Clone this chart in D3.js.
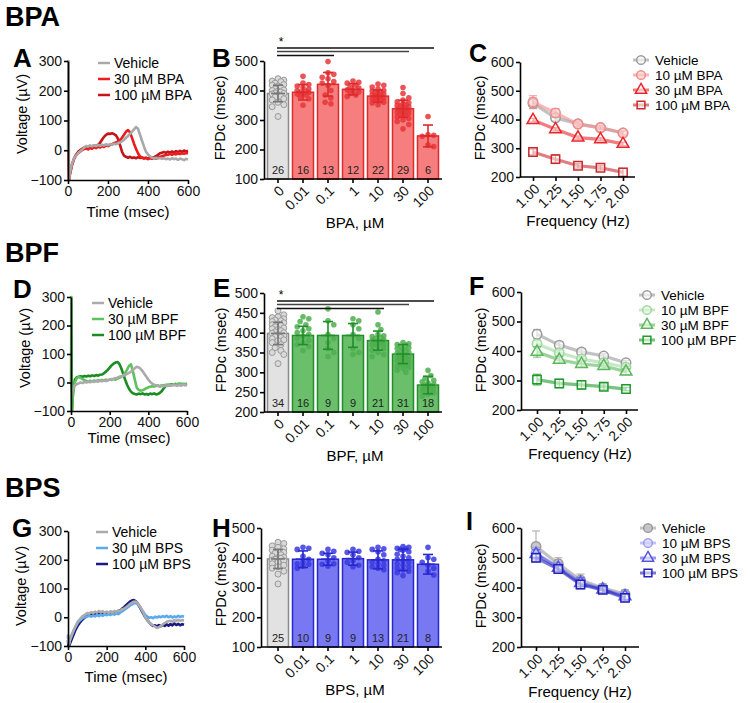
<!DOCTYPE html>
<html>
<head>
<meta charset="utf-8">
<script src="https://cdn.jsdelivr.net/npm/d3@7"></script>
<style>
  body { margin: 0; background: #fff; }
  svg text { font-family: "Liberation Sans", Arial, sans-serif; }
</style>
</head>
<body>
<svg id="fig" width="750" height="703"></svg>
<script>
// ---------------- data ----------------
// field potential traces, sampled at these times (msec)
var traceTimes = [0, 2, 5].concat(d3.range(10, 601, 10));

var bpaTraceVeh = [0, 300, -100,
  -75, -45, -28, -18, -10, -4, 2, 8, 14, 12,
  16, 13, 17, 14, 18, 15, 19, 16, 20, 17,
  21, 18, 22, 20, 24, 26, 30, 35, 42, 48,
  55, 62, 70, 78, 72, 52, 32, 12, -5, -14,
  -20, -25, -27, -25, -28, -26, -29, -27, -30, -28,
  -31, -27, -30, -28, -32, -28, -30, -33, -29, -31];
var bpaTrace30 = [0, 0, -100,
  -80, -50, -30, -18, -10, -5, 0, 4, 6, 3,
  8, 5, 10, 7, 12, 9, 14, 11, 16, 14,
  18, 20, 24, 26, 30, 34, 42, 52, 62, 68,
  60, 42, 22, 5, -10, -20, -25, -28, -26, -30,
  -27, -29, -26, -28, -24, -22, -20, -18, -16, -15,
  -13, -15, -12, -14, -11, -13, -10, -12, -9, -11];
var bpaTrace100 = [0, 0, -100,
  -78, -48, -28, -15, -6, 0, 5, 9, 12, 10,
  14, 12, 16, 14, 18, 25, 35, 45, 52, 56,
  55, 57, 54, 50, 38, 18, -5, -18, -22, -25,
  -22, -26, -24, -27, -23, -26, -24, -27, -25, -28,
  -24, -26, -23, -20, -15, -10, -8, -6, -9, -5,
  -8, -4, -7, -3, -6, -2, -5, -1, -4, -2];

var bpfTraceVeh = [-50, -45, -35,
  -20, -10, -6, -3, 0, -2, 2, 0, 3, 1,
  4, 2, 5, 3, 6, 4, 7, 5, 8, 10,
  12, 13, 15, 17, 20, 22, 24, 26, 30, 34,
  38, 44, 50, 55, 53, 48, 40, 30, 20, 10,
  2, -4, -8, -10, -12, -15, -11, -13, -10, -12,
  -9, -11, -8, -10, -12, -9, -11, -8, -10, -9];
var bpfTrace30 = [0, 300, -100,
  -40, 0, 15, 20, 16, 12, 8, 5, 3, 6,
  4, 7, 5, 8, 6, 9, 7, 10, 8, 11,
  9, 12, 10, 14, 16, 20, 25, 34, 45, 58,
  64, 40, 10, -18, -26, -29, -27, -24, -20, -17,
  -15, -13, -14, -12, -10, -13, -9, -11, -8, -10,
  -7, -9, -6, -8, -5, -7, -4, -6, -5, -6];
var bpfTrace100 = [0, 0, -100,
  -40, 10, 18, 20, 22, 20, 23, 21, 24, 22,
  25, 23, 26, 24, 27, 28, 32, 38, 44, 52,
  60, 66, 70, 72, 66, 50, 30, 10, -8, -22,
  -32, -38, -40, -42, -39, -41, -38, -42, -40, -43,
  -39, -41, -38, -42, -40, -36, -30, -20, -12, -8,
  -10, -6, -9, -5, -8, -4, -7, -5, -6, -4];

var bpsTraceVeh = [-65, -85, -95,
  -80, -62, -45, -30, -15, -8, 0, 6, 10, 15,
  12, 18, 14, 20, 16, 22, 17, 21, 15, 20,
  16, 21, 17, 22, 18, 24, 22, 28, 30, 35,
  40, 46, 50, 54, 55, 50, 40, 28, 15, 0,
  -10, -18, -24, -28, -33, -37, -35, -30, -25, -20,
  -16, -14, -12, -15, -10, -13, -9, -12, -10, -11];
var bpsTrace30 = [-60, -80, -92,
  -78, -60, -44, -32, -20, -12, -6, -2, 0, 3,
  5, 2, 6, 3, 8, 4, 9, 5, 10, 7,
  11, 8, 12, 9, 14, 11, 16, 20, 25, 30,
  35, 40, 44, 48, 50, 46, 38, 28, 18, 8,
  2, -2, 0, -3, 2, -1, 3, 0, 4, 1,
  5, 0, 4, -1, 3, 0, 5, 1, 4, 2];
var bpsTrace100 = [-80, -100, -100,
  -92, -75, -58, -42, -30, -20, -12, -5, 0, 5,
  8, 12, 10, 14, 11, 15, 12, 16, 13, 17,
  14, 18, 15, 19, 17, 22, 24, 30, 35, 42,
  48, 54, 58, 60, 56, 48, 36, 24, 12, 0,
  -10, -18, -25, -30, -28, -32, -27, -31, -26, -30,
  -25, -29, -24, -28, -22, -27, -23, -28, -24, -26];

// FPDc per dose (bar = mean, whisker = SD, n under bar)
var doses = ["0", "0.01", "0.1", "1", "10", "30", "100"];

var bpaMeans = [390, 394, 421, 404, 381, 338, 246];
var bpaSd = [28, 26, 40, 19, 21, 29, 37];
var bpaN = [26, 16, 13, 12, 22, 29, 6];
var bpaDots = [
  [440, 435, 432, 430, 425, 420, 418, 415, 410, 405, 402, 400, 398, 395, 392, 390, 388, 385, 380, 378, 372, 368, 360, 352, 345, 312],
  [448, 425, 420, 415, 410, 405, 400, 398, 395, 392, 390, 388, 385, 380, 372, 350],
  [498, 460, 455, 445, 440, 430, 425, 418, 400, 385, 375, 360, 355],
  [432, 428, 425, 418, 412, 408, 402, 400, 395, 390, 385, 380],
  [422, 418, 412, 405, 400, 398, 395, 392, 390, 388, 385, 382, 380, 378, 375, 372, 370, 368, 365, 360, 358, 352],
  [410, 390, 375, 368, 362, 358, 355, 352, 350, 348, 345, 342, 340, 338, 335, 333, 330, 328, 325, 322, 320, 318, 315, 310, 305, 300, 295, 285, 270],
  [312, 250, 248, 245, 215, 210]
];

var bpfMeans = [398, 393, 393, 393, 380, 346, 268];
var bpfSd = [28, 23, 35, 30, 24, 24, 22];
var bpfN = [34, 16, 9, 9, 21, 31, 18];
var bpfDots = [
  [455, 445, 440, 438, 435, 432, 430, 428, 425, 422, 420, 418, 415, 412, 410, 408, 405, 402, 400, 398, 395, 392, 390, 388, 385, 382, 380, 375, 370, 362, 355, 350, 345, 322],
  [440, 435, 428, 420, 415, 410, 405, 400, 395, 390, 385, 380, 375, 370, 365, 355],
  [460, 430, 420, 395, 385, 375, 360, 350, 340],
  [435, 430, 420, 410, 395, 385, 360, 350, 345],
  [452, 420, 408, 395, 392, 390, 388, 385, 382, 380, 378, 375, 372, 370, 368, 365, 360, 355, 350, 345, 340],
  [375, 372, 370, 368, 365, 362, 360, 358, 355, 352, 350, 348, 346, 344, 342, 340, 338, 336, 334, 332, 330, 328, 325, 322, 320, 318, 315, 312, 310, 305, 300],
  [305, 292, 285, 280, 276, 273, 270, 268, 266, 264, 262, 260, 258, 255, 252, 248, 245, 240]
];

var bpsMeans = [396, 395, 395, 397, 393, 393, 378];
var bpsSd = [32, 28, 20, 22, 30, 36, 33];
var bpsN = [25, 10, 9, 9, 13, 21, 8];
var bpsDots = [
  [452, 448, 440, 435, 430, 425, 420, 418, 415, 410, 405, 402, 400, 398, 395, 392, 390, 385, 380, 375, 370, 365, 355, 345, 312],
  [435, 432, 428, 405, 395, 385, 380, 378, 372, 365],
  [428, 422, 415, 410, 400, 390, 380, 378, 372],
  [428, 422, 418, 410, 400, 390, 385, 375, 370],
  [435, 430, 428, 420, 410, 395, 390, 385, 380, 375, 370, 365, 360],
  [438, 435, 432, 430, 428, 425, 420, 412, 405, 400, 395, 390, 385, 380, 375, 370, 365, 360, 355, 350, 340],
  [435, 400, 395, 385, 375, 365, 355, 342]
];

// FPDc vs pacing frequency (mean, error)
var freqs = [1.00, 1.25, 1.50, 1.75, 2.00];
var freqLabels = ["1.00", "1.25", "1.50", "1.75", "2.00"];

var bpaFreqVeh = [456, 406, 385, 371, 353], bpaFreqVehErr = [18, 10, 8, 6, 6];
var bpaFreq10 = [461, 423, 384, 372, 353], bpaFreq10Err = [22, 15, 8, 7, 7];
var bpaFreq30 = [398, 366, 337, 331, 315], bpaFreq30Err = [6, 6, 6, 6, 6];
var bpaFreq100 = [287, 262, 239, 232, 216], bpaFreq100Err = [10, 15, 8, 8, 14];

var bpfFreqVeh = [457, 420, 397, 383, 360], bpfFreqVehErr = [16, 10, 10, 8, 8];
var bpfFreq10 = [424, 394, 373, 360, 345], bpfFreq10Err = [12, 10, 8, 8, 8];
var bpfFreq30 = [397, 370, 356, 349, 330], bpfFreq30Err = [18, 12, 10, 10, 10];
var bpfFreq100 = [303, 290, 285, 279, 271], bpfFreq100Err = [18, 14, 14, 10, 6];

var bpsFreqVeh = [538, 480, 425, 398, 378], bpsFreqVehErr = [52, 20, 20, 14, 14];
var bpsFreq10 = [515, 470, 418, 395, 372], bpsFreq10Err = [20, 14, 16, 10, 14];
var bpsFreq30 = [512, 466, 415, 393, 370], bpsFreq30Err = [15, 12, 18, 10, 10];
var bpsFreq100 = [500, 462, 410, 392, 365], bpsFreq100Err = [12, 10, 14, 10, 12];

// ---------------- drawing ----------------
var svg = d3.select("#fig");

function styleAxis(g, fs) {
    g.attr("font-family", '"Liberation Sans", Arial, sans-serif').attr("font-size", fs || 14);
    g.selectAll(".domain, .tick line").attr("stroke", "#000").attr("stroke-width", 1.6);
    g.selectAll(".tick text").attr("fill", "#111");
}

function vLabel(txt, x, y) {
    svg.append("text").attr("transform", "translate(" + x + "," + y + ") rotate(-90)")
        .attr("text-anchor", "middle").attr("font-size", 14.5).text(txt);
}

function hLabel(txt, x, y, fs) {
    svg.append("text").attr("x", x).attr("y", y).attr("text-anchor", "middle")
        .attr("font-size", fs || 15).text(txt);
}

function bigText(txt, x, y, fs) {
    svg.append("text").attr("x", x).attr("y", y).attr("font-size", fs)
        .attr("font-weight", "bold").text(txt);
}

// ---- voltage traces ----
function tracePanel(o) {
    var x = d3.scaleLinear().domain([0, 600]).range([o.left, o.right]);
    var y = d3.scaleLinear().domain([-100, 300]).range([o.bottom, o.top]);
    var g = svg.append("g");
    var line = d3.line()
        .x(function(d, i) { return x(traceTimes[i]); })
        .y(function(d) { return y(d); });

    o.series.slice().reverse().forEach(function(s) {
        g.append("path").datum(s.values).attr("d", line)
            .attr("fill", "none").attr("stroke", s.color)
            .attr("stroke-width", 2.6).attr("stroke-linejoin", "round");
    });

    g.append("g").attr("transform", "translate(0," + o.bottom + ")")
        .call(d3.axisBottom(x).tickValues([0, 200, 400, 600]).tickSize(4).tickPadding(2).tickSizeOuter(0))
        .call(styleAxis);
    g.append("g").attr("transform", "translate(" + o.left + ",0)")
        .call(d3.axisLeft(y).tickValues([-100, 0, 100, 200, 300]).tickSize(4).tickPadding(2).tickSizeOuter(0))
        .call(styleAxis);

    o.series.forEach(function(s, i) {
        var ly = o.legY + i * 16;
        g.append("line").attr("x1", o.legX).attr("x2", o.legX + 12)
            .attr("y1", ly).attr("y2", ly).attr("stroke", s.color).attr("stroke-width", 2.5);
        g.append("text").attr("x", o.legX + 16).attr("y", ly).attr("dy", "0.35em")
            .attr("font-size", 14).text(s.name);
    });
}

// ---- bar + dot charts ----
function swarm(vals, cx, y, r, half) {
    var placed = [];
    var sorted = vals.slice().sort(function(a, b) { return b - a; });
    var offs = [0];
    for (var k = 1; k < 12; k++) { offs.push(k * r); offs.push(-k * r); }
    sorted.forEach(function(v) {
        var py = y(v), best = 0, bestD = -1;
        for (var j = 0; j < offs.length; j++) {
            if (Math.abs(offs[j]) > half) continue;
            var px = cx + offs[j];
            var dmin = d3.min(placed, function(p) { return Math.hypot(p.x - px, p.y - py); });
            if (dmin === undefined) dmin = 1e9;
            if (dmin >= 2 * r * 0.92) { best = offs[j]; bestD = 1e9; break; }
            if (dmin > bestD) { bestD = dmin; best = offs[j]; }
        }
        placed.push({ x: cx + best, y: py });
    });
    return placed;
}

function barPanel(o) {
    var x = d3.scaleBand().domain(doses).range([264, 442]).paddingInner(0.16).paddingOuter(0.14);
    var y = d3.scaleLinear().domain(o.domain).range([o.bottom, o.top]);
    var g = svg.append("g");
    var bw = x.bandwidth();

    doses.forEach(function(d, i) {
        var veh = i === 0;
        var cx = x(d) + bw / 2;
        g.append("rect").attr("x", x(d)).attr("y", y(o.means[i]))
            .attr("width", bw).attr("height", o.bottom - y(o.means[i]))
            .attr("fill", veh ? "#e2e2e2" : o.fill)
            .attr("stroke", veh ? "#8a8a8a" : o.stroke).attr("stroke-width", 1.5);

        swarm(o.dots[i], cx, y, 2.9, bw / 2 - 2).forEach(function(p) {
            g.append("circle").attr("cx", p.x).attr("cy", p.y).attr("r", veh ? 3 : 2.8)
                .attr("fill", veh ? "#d9d9d9" : o.dot)
                .attr("fill-opacity", veh ? 1 : 0.85)
                .attr("stroke", veh ? "#9a9a9a" : "none").attr("stroke-width", 1);
        });

        var ec = veh ? "#777" : o.stroke;
        var hi = y(o.means[i] + o.sd[i]), lo = y(o.means[i] - o.sd[i]);
        g.append("line").attr("x1", cx).attr("x2", cx).attr("y1", hi).attr("y2", lo)
            .attr("stroke", ec).attr("stroke-width", 1.6);
        [hi, lo].forEach(function(yy) {
            g.append("line").attr("x1", cx - 5).attr("x2", cx + 5).attr("y1", yy).attr("y2", yy)
                .attr("stroke", ec).attr("stroke-width", 1.6);
        });
        g.append("line").attr("x1", cx - 7).attr("x2", cx + 7)
            .attr("y1", y(o.means[i])).attr("y2", y(o.means[i]))
            .attr("stroke", ec).attr("stroke-width", 1.6);

        g.append("text").attr("x", cx).attr("y", o.bottom - 5).attr("text-anchor", "middle")
            .attr("font-size", 11).attr("fill", "#222").text(o.n[i]);
    });

    g.append("g").attr("transform", "translate(0," + o.bottom + ")")
        .call(d3.axisBottom(x).tickSize(4).tickSizeOuter(0))
        .call(styleAxis)
        .call(function(a) {
            a.select(".domain").remove();
            a.selectAll(".tick text").attr("x", -4).attr("y", 9).attr("dy", "0.35em")
                .attr("transform", "rotate(-45)").style("text-anchor", "end");
        });
    g.append("line").attr("x1", o.axisX).attr("x2", 442).attr("y1", o.bottom).attr("y2", o.bottom)
        .attr("stroke", "#000").attr("stroke-width", 1.6);
    g.append("g").attr("transform", "translate(" + o.axisX + ",0)")
        .call(d3.axisLeft(y).ticks(5).tickSize(4).tickPadding(2).tickSizeOuter(0))
        .call(styleAxis);

    if (o.sig) {
        o.sig.forEach(function(s) {
            g.append("line").attr("x1", 277).attr("x2", x(s.to) + bw / 2 + 6)
                .attr("y1", s.y).attr("y2", s.y).attr("stroke", s.c || "#111").attr("stroke-width", 1.6);
        });
        g.append("text").attr("x", 281).attr("y", o.starY).attr("text-anchor", "middle")
            .attr("font-size", 12).text("*");
    }
}

// ---- frequency line charts ----
function symbolFor(shape, size) {
    var t = shape === "square" ? d3.symbolSquare : shape === "triangle" ? d3.symbolTriangle : d3.symbolCircle;
    return d3.symbol().type(t).size(size)();
}

function linePanel(o) {
    var x = d3.scaleLinear().domain([1, 2]).range([o.xa, o.xb]);
    var y = d3.scaleLinear().domain([200, 600]).range([o.bottom, o.top]);
    var g = svg.append("g");
    var line = d3.line().x(function(d, i) { return x(freqs[i]); }).y(function(d) { return y(d); });

    o.series.forEach(function(s) {
        var sg = g.append("g");
        s.vals.forEach(function(v, i) {
            var cx = x(freqs[i]);
            var hi = y(v + s.err[i]), lo = y(v - s.err[i]);
            sg.append("line").attr("x1", cx).attr("x2", cx).attr("y1", hi).attr("y2", lo)
                .attr("stroke", s.color).attr("stroke-width", 1.3).attr("stroke-opacity", 0.7);
            [hi, lo].forEach(function(yy) {
                sg.append("line").attr("x1", cx - 4).attr("x2", cx + 4).attr("y1", yy).attr("y2", yy)
                    .attr("stroke", s.color).attr("stroke-width", 1.3).attr("stroke-opacity", 0.7);
            });
        });
        sg.append("path").datum(s.vals).attr("d", line).attr("fill", "none")
            .attr("stroke", s.color).attr("stroke-width", 3.2).attr("stroke-opacity", 0.6);
        s.vals.forEach(function(v, i) {
            sg.append("path").attr("d", symbolFor(s.shape, s.shape === "triangle" ? 60 : 70))
                .attr("transform", "translate(" + x(freqs[i]) + "," + y(v) + ")")
                .attr("fill", s.fill).attr("fill-opacity", s.fillOp)
                .attr("stroke", s.color).attr("stroke-width", 1.5);
        });
    });

    g.append("g").attr("transform", "translate(0," + o.bottom + ")")
        .call(d3.axisBottom(x).tickValues(freqs).tickFormat(function(d, i) { return freqLabels[i]; })
            .tickSize(4).tickSizeOuter(0))
        .call(styleAxis)
        .call(function(a) {
            a.select(".domain").remove();
            a.selectAll(".tick text").attr("x", -4).attr("y", 9).attr("dy", "0.35em")
                .attr("transform", "rotate(-45)").style("text-anchor", "end");
        });
    g.append("line").attr("x1", o.axisX).attr("x2", o.axisEnd).attr("y1", o.bottom).attr("y2", o.bottom)
        .attr("stroke", "#000").attr("stroke-width", 1.6);
    g.append("g").attr("transform", "translate(" + o.axisX + ",0)")
        .call(d3.axisLeft(y).tickValues([200, 300, 400, 500, 600]).tickSize(4).tickPadding(2).tickSizeOuter(0))
        .call(styleAxis);

    o.series.forEach(function(s, i) {
        var ly = o.legY[i];
        g.append("line").attr("x1", o.legX - 8).attr("x2", o.legX + 8).attr("y1", ly).attr("y2", ly)
            .attr("stroke", s.color).attr("stroke-width", 3).attr("stroke-opacity", 0.6);
        g.append("path").attr("d", symbolFor(s.shape, s.shape === "triangle" ? 55 : 60))
            .attr("transform", "translate(" + o.legX + "," + ly + ")")
            .attr("fill", s.fill).attr("fill-opacity", s.fillOp)
            .attr("stroke", s.color).attr("stroke-width", 1.5);
        g.append("text").attr("x", o.legX + 14).attr("y", ly).attr("dy", "0.35em")
            .attr("font-size", 13.5).text(s.name);
    });
}

// ================= BPA row =================
bigText("BPA", 5, 26, 27);
bigText("A", 13, 67, 26);
bigText("B", 212, 67, 26);
bigText("C", 469, 62, 25);

tracePanel({
    left: 68, right: 188, top: 61, bottom: 180, legX: 98, legY: 63,
    series: [
        { name: "Vehicle", color: "#a9a9a9", values: bpaTraceVeh },
        { name: "30 \u00b5M BPA", color: "#ec1c1f", values: bpaTrace30 },
        { name: "100 \u00b5M BPA", color: "#c31616", values: bpaTrace100 }
    ]
});
vLabel("Voltage (\u00b5V)", 27, 114);
hLabel("Time (msec)", 128, 217);

barPanel({
    domain: [100, 500], top: 61, bottom: 179, axisX: 264,
    means: bpaMeans, sd: bpaSd, n: bpaN, dots: bpaDots,
    fill: "#f77e7e", stroke: "#dd2a2a", dot: "#e8353a",
    sig: [{ to: "100", y: 48 }, { to: "30", y: 51.5, c: "#444" }, { to: "0.1", y: 55.5 }], starY: 46
});
vLabel("FPDc (msec)", 225, 118);
hLabel("BPA, \u00b5M", 355, 228);

linePanel({
    xa: 533, xb: 623, axisX: 520, axisEnd: 635, top: 62, bottom: 177,
    legX: 641, legY: [60, 75, 90, 105],
    series: [
        { name: "Vehicle", vals: bpaFreqVeh, err: bpaFreqVehErr, color: "#9a9a9a", fill: "#fff", fillOp: 0.6, shape: "circle" },
        { name: "10 \u00b5M BPA", vals: bpaFreq10, err: bpaFreq10Err, color: "#f28a8a", fill: "#fbd0d0", fillOp: 0.6, shape: "circle" },
        { name: "30 \u00b5M BPA", vals: bpaFreq30, err: bpaFreq30Err, color: "#e8262b", fill: "#fff", fillOp: 0.5, shape: "triangle" },
        { name: "100 \u00b5M BPA", vals: bpaFreq100, err: bpaFreq100Err, color: "#c92a2e", fill: "#fff", fillOp: 0.5, shape: "square" }
    ]
});
vLabel("FPDc (msec)", 485, 118);
hLabel("Frequency (Hz)", 578, 226);

// ================= BPF row =================
bigText("BPF", 5, 262, 27);
bigText("D", 13, 298, 26);
bigText("E", 213, 297, 26);
bigText("F", 469, 295, 25);

tracePanel({
    left: 71, right: 187, top: 297, bottom: 411, legX: 92, legY: 303,
    series: [
        { name: "Vehicle", color: "#ababab", values: bpfTraceVeh },
        { name: "30 \u00b5M BPF", color: "#5fc05f", values: bpfTrace30 },
        { name: "100 \u00b5M BPF", color: "#1b8c22", values: bpfTrace100 }
    ]
});
vLabel("Voltage (\u00b5V)", 30, 348);
hLabel("Time (msec)", 129, 443);

barPanel({
    domain: [200, 500], top: 293, bottom: 412, axisX: 264,
    means: bpfMeans, sd: bpfSd, n: bpfN, dots: bpfDots,
    fill: "#6bbf6b", stroke: "#1f8f2a", dot: "#4dae4d",
    sig: [{ to: "100", y: 301 }, { to: "30", y: 304.5, c: "#444" }, { to: "10", y: 308.5 }], starY: 299
});
vLabel("FPDc (msec)", 226, 350);
hLabel("BPF, \u00b5M", 355, 461);

linePanel({
    xa: 537, xb: 626, axisX: 521, axisEnd: 638, top: 292, bottom: 410,
    legX: 647, legY: [295, 310, 325, 340],
    series: [
        { name: "Vehicle", vals: bpfFreqVeh, err: bpfFreqVehErr, color: "#9a9a9a", fill: "#fff", fillOp: 0.6, shape: "circle" },
        { name: "10 \u00b5M BPF", vals: bpfFreq10, err: bpfFreq10Err, color: "#9fd89f", fill: "#e3f4e3", fillOp: 0.6, shape: "circle" },
        { name: "30 \u00b5M BPF", vals: bpfFreq30, err: bpfFreq30Err, color: "#5cb85c", fill: "#fff", fillOp: 0.5, shape: "triangle" },
        { name: "100 \u00b5M BPF", vals: bpfFreq100, err: bpfFreq100Err, color: "#1f9a2a", fill: "#fff", fillOp: 0.5, shape: "square" }
    ]
});
vLabel("FPDc (msec)", 486, 350);
hLabel("Frequency (Hz)", 580, 459);

// ================= BPS row =================
bigText("BPS", 5, 497, 27);
bigText("G", 12, 537, 26);
bigText("H", 212, 537, 26);
bigText("I", 466, 530, 25);

tracePanel({
    left: 68, right: 184, top: 531, bottom: 646, legX: 96, legY: 532,
    series: [
        { name: "Vehicle", color: "#ababab", values: bpsTraceVeh },
        { name: "30 \u00b5M BPS", color: "#5aaaf0", values: bpsTrace30 },
        { name: "100 \u00b5M BPS", color: "#1a1a82", values: bpsTrace100 }
    ]
});
vLabel("Voltage (\u00b5V)", 26, 586);
hLabel("Time (msec)", 126, 682);

barPanel({
    domain: [100, 500], top: 528, bottom: 647, axisX: 261,
    means: bpsMeans, sd: bpsSd, n: bpsN, dots: bpsDots,
    fill: "#7878f2", stroke: "#2727cf", dot: "#3a3ae0"
});
vLabel("FPDc (msec)", 226, 584);
hLabel("BPS, \u00b5M", 355, 695);

linePanel({
    xa: 536, xb: 625, axisX: 521, axisEnd: 639, top: 528, bottom: 647,
    legX: 648, legY: [528, 543, 558, 573],
    series: [
        { name: "Vehicle", vals: bpsFreqVeh, err: bpsFreqVehErr, color: "#9a9a9a", fill: "#c4c4c4", fillOp: 0.9, shape: "circle" },
        { name: "10 \u00b5M BPS", vals: bpsFreq10, err: bpsFreq10Err, color: "#9a9af0", fill: "#d6d6f8", fillOp: 0.7, shape: "circle" },
        { name: "30 \u00b5M BPS", vals: bpsFreq30, err: bpsFreq30Err, color: "#5656dc", fill: "#fff", fillOp: 0.5, shape: "triangle" },
        { name: "100 \u00b5M BPS", vals: bpsFreq100, err: bpsFreq100Err, color: "#2222bb", fill: "#fff", fillOp: 0.5, shape: "square" }
    ]
});
vLabel("FPDc (msec)", 486, 586);
hLabel("Frequency (Hz)", 580, 697);
</script>
</body>
</html>
